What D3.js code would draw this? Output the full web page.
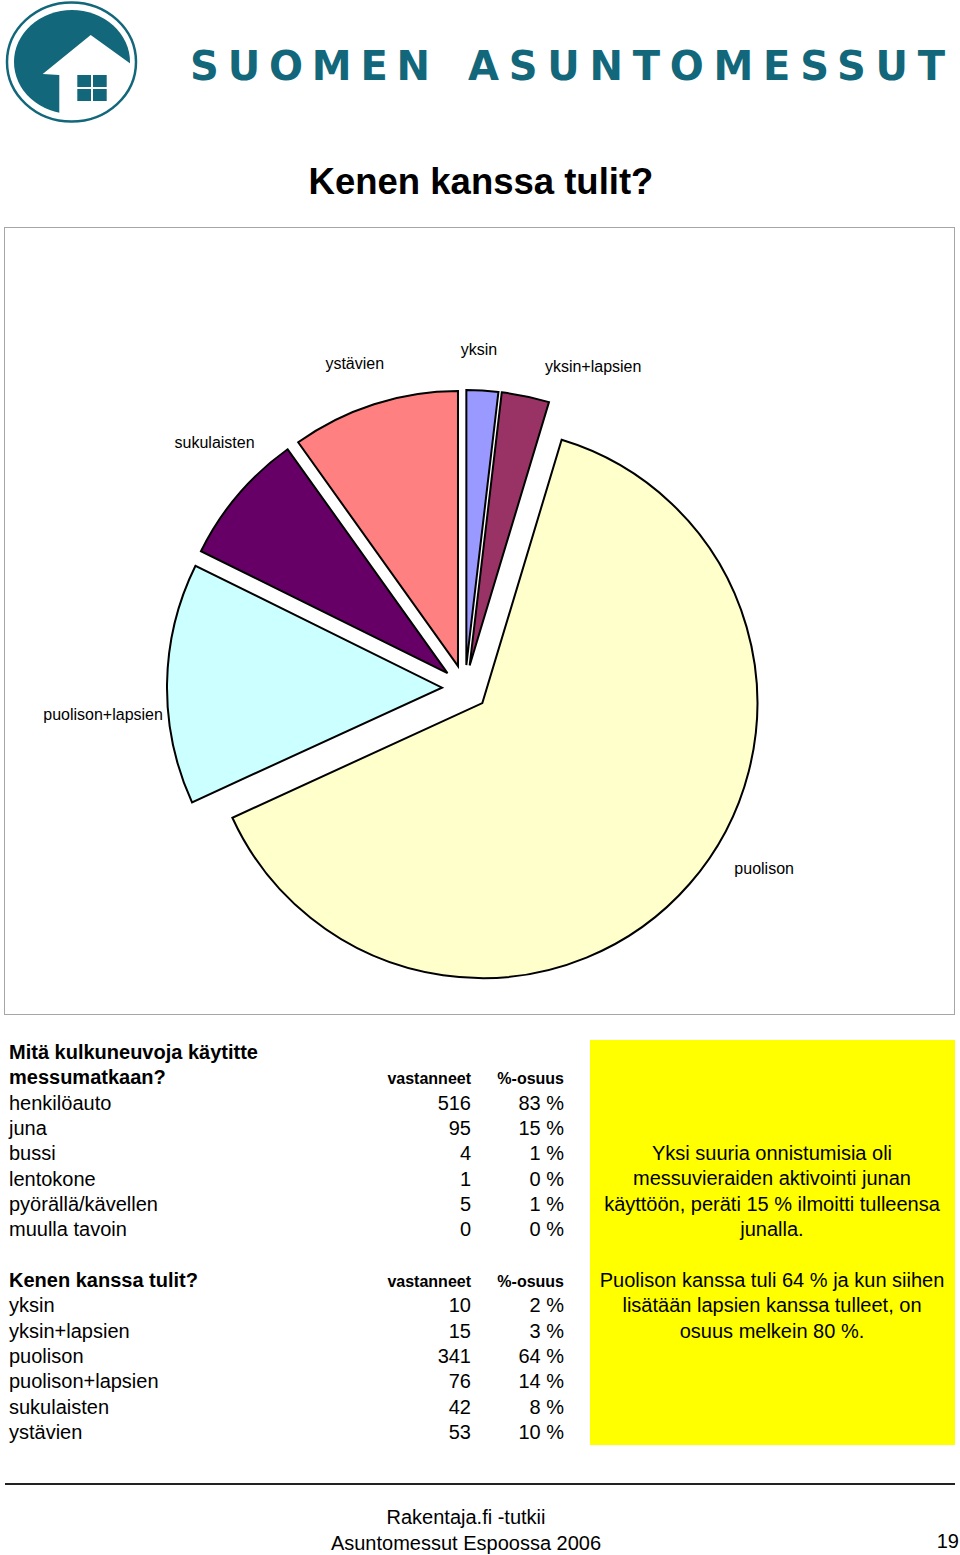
<!DOCTYPE html>
<html><head><meta charset="utf-8">
<script src="https://cdn.jsdelivr.net/npm/d3@7"></script>
<style>body{margin:0;background:#fff}svg{display:block}text{font-family:"Liberation Sans",Arial,sans-serif}</style>
</head><body>
<script>
// ---- data ----
const pieCategories = ["yksin","yksin+lapsien","puolison","puolison+lapsien","sukulaisten","ystävien"];
const pieValues = [10,15,341,76,42,53];
const piePercents = ["2 %","3 %","64 %","14 %","8 %","10 %"];
const transportCategories = ["henkilöauto","juna","bussi","lentokone","pyörällä/kävellen","muulla tavoin"];
const transportValues = [516,95,4,1,5,0];
const transportPercents = ["83 %","15 %","1 %","0 %","1 %","0 %"];
const tableHeaders = ["vastanneet","%-osuus"];
const noteLines1 = ["Yksi suuria onnistumisia oli","messuvieraiden aktivointi junan","käyttöön, peräti 15 % ilmoitti tulleensa","junalla."];
const noteLines2 = ["Puolison kanssa tuli 64 % ja kun siihen","lisätään lapsien kanssa tulleet, on","osuus melkein 80 %."];

// ---- layout ----
const W = 960, H = 1555, teal = "#12677a";
const svg = d3.select("body").append("svg").attr("width", W).attr("height", H);

// logo
const logo = svg.append("g");
logo.append("ellipse").attr("cx",72).attr("cy",62).attr("rx",58).attr("ry",52).attr("fill",teal);
logo.append("polygon").attr("points","42.7,74 90.7,35 142,72 142,126 59.3,126 59.3,75").attr("fill","#fff");
[[77.3,75],[93,75],[77.3,89],[93,89]].forEach(p=>logo.append("rect").attr("x",p[0]).attr("y",p[1]).attr("width",13.7).attr("height",12).attr("fill",teal));
logo.append("ellipse").attr("cx",71.5).attr("cy",62).attr("rx",64.5).attr("ry",59.5).attr("fill","none").attr("stroke",teal).attr("stroke-width",2.5);
logo.append("text").attr("x",190).attr("y",80).attr("textLength",240).attr("lengthAdjust","spacing")
  .style("font-family","DejaVu Sans").style("font-weight","bold").style("font-size","40px").attr("fill",teal).text("SUOMEN");
logo.append("text").attr("x",468).attr("y",80).attr("textLength",477).attr("lengthAdjust","spacing")
  .style("font-family","DejaVu Sans").style("font-weight","bold").style("font-size","40px").attr("fill",teal).text("ASUNTOMESSUT");

// title
svg.append("text").attr("x",481).attr("y",194).attr("text-anchor","middle")
  .style("font-size","36.5px").style("font-weight","bold").text("Kenen kanssa tulit?");

// chart box
svg.append("rect").attr("x",4.5).attr("y",227.5).attr("width",950).attr("height",787)
  .attr("fill","#fff").attr("stroke","#a6a6a6").attr("stroke-width",1);

// pie
const cx = 465, cy = 688, r = 275, explode = 23;
const color = d3.scaleOrdinal().domain(pieCategories)
  .range(["#9999ff","#993366","#ffffcc","#ccffff","#660066","#ff8080"]);
const pie = d3.pie().sort(null).value(d=>d.v);
const arcs = pie(pieCategories.map((c,i)=>({c, v: pieValues[i]})));
const arc = d3.arc().innerRadius(0).outerRadius(r);
const pg = svg.append("g").attr("transform",`translate(${cx},${cy})`);
pg.selectAll("path").data(arcs).join("path")
  .attr("transform", d=>{const a=(d.startAngle+d.endAngle)/2; return `translate(${explode*Math.sin(a)},${-explode*Math.cos(a)})`;})
  .attr("d", arc).attr("fill", d=>color(d.data.c)).attr("stroke","#000").attr("stroke-width",2).attr("stroke-linejoin","miter");
const labelShift = [-1,10,-10,-5,4,-1]; // degrees, label placement tweak
pg.selectAll("text.lab").data(arcs).join("text").attr("class","lab")
  .style("font-size","16px").attr("text-anchor","middle").attr("dominant-baseline","central")
  .text(d=>d.data.c)
  .each(function(d,i){
    const w = this.getComputedTextLength();
    const a = (d.startAngle+d.endAngle)/2 + labelShift[i]*Math.PI/180;
    const R = 339 + 0.2*w*Math.abs(Math.sin(a));
    d3.select(this).attr("x", R*Math.sin(a)).attr("y", -R*Math.cos(a));
  });

// tables
const xLeft = 9, xNum = 471, xPct = 564, rowH = 25.3;
function table(y0, titleLines, cats, vals, pcts){
  const g = svg.append("g");
  titleLines.forEach((t,i)=>g.append("text").attr("x",xLeft).attr("y",y0+i*rowH).style("font-size","20px").style("font-weight","bold").text(t));
  const hy = y0+(titleLines.length-1)*rowH;
  g.append("text").attr("x",xNum).attr("y",hy).attr("text-anchor","end").style("font-size","16px").style("font-weight","bold").text(tableHeaders[0]);
  g.append("text").attr("x",xPct).attr("y",hy).attr("text-anchor","end").style("font-size","16px").style("font-weight","bold").text(tableHeaders[1]);
  cats.forEach((c,i)=>{
    const y = hy + (i+1)*rowH;
    g.append("text").attr("x",xLeft).attr("y",y).style("font-size","20px").text(c);
    g.append("text").attr("x",xNum).attr("y",y).attr("text-anchor","end").style("font-size","20px").text(vals[i]);
    g.append("text").attr("x",xPct).attr("y",y).attr("text-anchor","end").style("font-size","20px").text(pcts[i]);
  });
}
table(1059, ["Mitä kulkuneuvoja käytitte","messumatkaan?"], transportCategories, transportValues, transportPercents);
table(1287, ["Kenen kanssa tulit?"], pieCategories, pieValues, piePercents);

// yellow note
svg.append("rect").attr("x",590).attr("y",1040).attr("width",365).attr("height",405).attr("fill","#ffff00");
noteLines1.forEach((t,i)=>svg.append("text").attr("x",772).attr("y",1160+i*25.3).attr("text-anchor","middle").style("font-size","20px").text(t));
noteLines2.forEach((t,i)=>svg.append("text").attr("x",772).attr("y",1287+i*25.3).attr("text-anchor","middle").style("font-size","20px").text(t));

// footer
svg.append("line").attr("x1",5).attr("x2",955).attr("y1",1484).attr("y2",1484).attr("stroke","#222").attr("stroke-width",2);
svg.append("text").attr("x",466).attr("y",1524).attr("text-anchor","middle").style("font-size","20px").text("Rakentaja.fi -tutkii");
svg.append("text").attr("x",466).attr("y",1550).attr("text-anchor","middle").style("font-size","20px").text("Asuntomessut Espoossa 2006");
svg.append("text").attr("x",959).attr("y",1548).attr("text-anchor","end").style("font-size","20px").text("19");
</script>
</body></html>
